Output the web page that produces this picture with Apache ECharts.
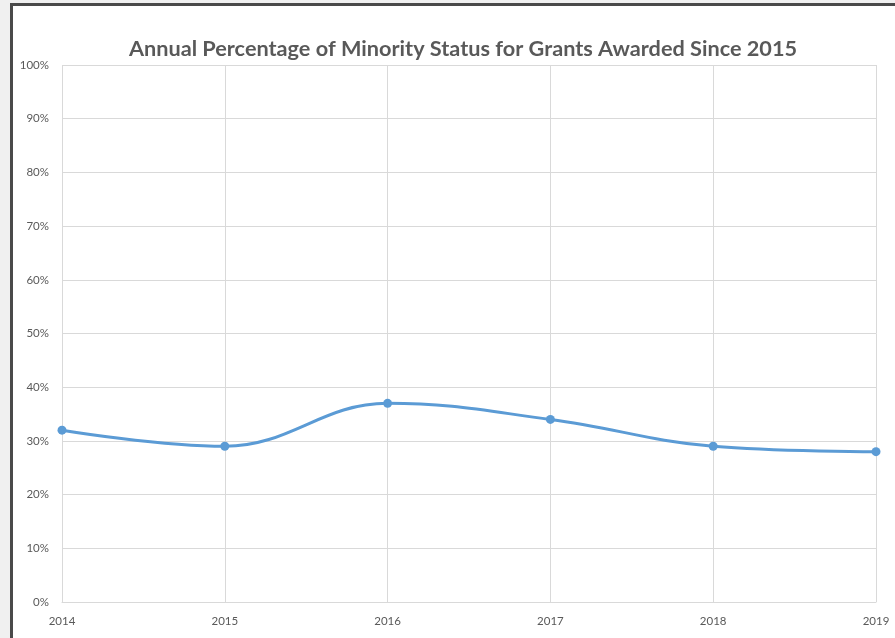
<!DOCTYPE html>
<html><head><meta charset="utf-8">
<script src="https://cdn.jsdelivr.net/npm/echarts@6/dist/echarts.min.js"></script>
<style>html,body{margin:0;padding:0;}#c{width:895px;height:638px;}</style>
</head><body><div id="c"></div>
<script>
const years = ['2014','2015','2016','2017','2018','2019'];
const minorityPct = [32, 29, 37, 34, 29, 28];
const chart = echarts.init(document.getElementById('c'));
chart.setOption({
  animation: false,
  backgroundColor: '#f0f0f0',
  graphic: [{type:'rect', z:-10, shape:{x:11.5,y:4.5,width:950,height:700}, style:{fill:'#ffffff', stroke:'#4a4a4a', lineWidth:3}}],
  title: {text:'Annual Percentage of Minority Status for Grants Awarded Since 2015', left:458, textAlign:'center', top:33,
    textStyle:{fontFamily:'Lato', fontWeight:'bold', fontSize:21.7, color:'#595959'}},
  grid: {left:62, right:19, top:65, bottom:36},
  xAxis: {type:'category', data:years, boundaryGap:false,
    axisLine:{lineStyle:{color:'#d9d9d9'}}, axisTick:{show:false},
    axisLabel:{color:'#595959', fontSize:11.5, fontFamily:'Lato', margin:13},
    splitLine:{show:true, lineStyle:{color:'#d9d9d9'}}},
  yAxis: {type:'value', min:0, max:100, interval:10,
    axisLine:{show:false}, axisTick:{show:false},
    axisLabel:{formatter:'{value}%', color:'#595959', fontSize:11.5, fontFamily:'Lato', margin:13},
    splitLine:{lineStyle:{color:'#d9d9d9'}}},
  series: [{type:'line', data:minorityPct, smooth:0.4, symbol:'circle', symbolSize:9,
    lineStyle:{color:'#5b9bd5', width:3}, itemStyle:{color:'#5b9bd5'}}]
});
</script></body></html>
